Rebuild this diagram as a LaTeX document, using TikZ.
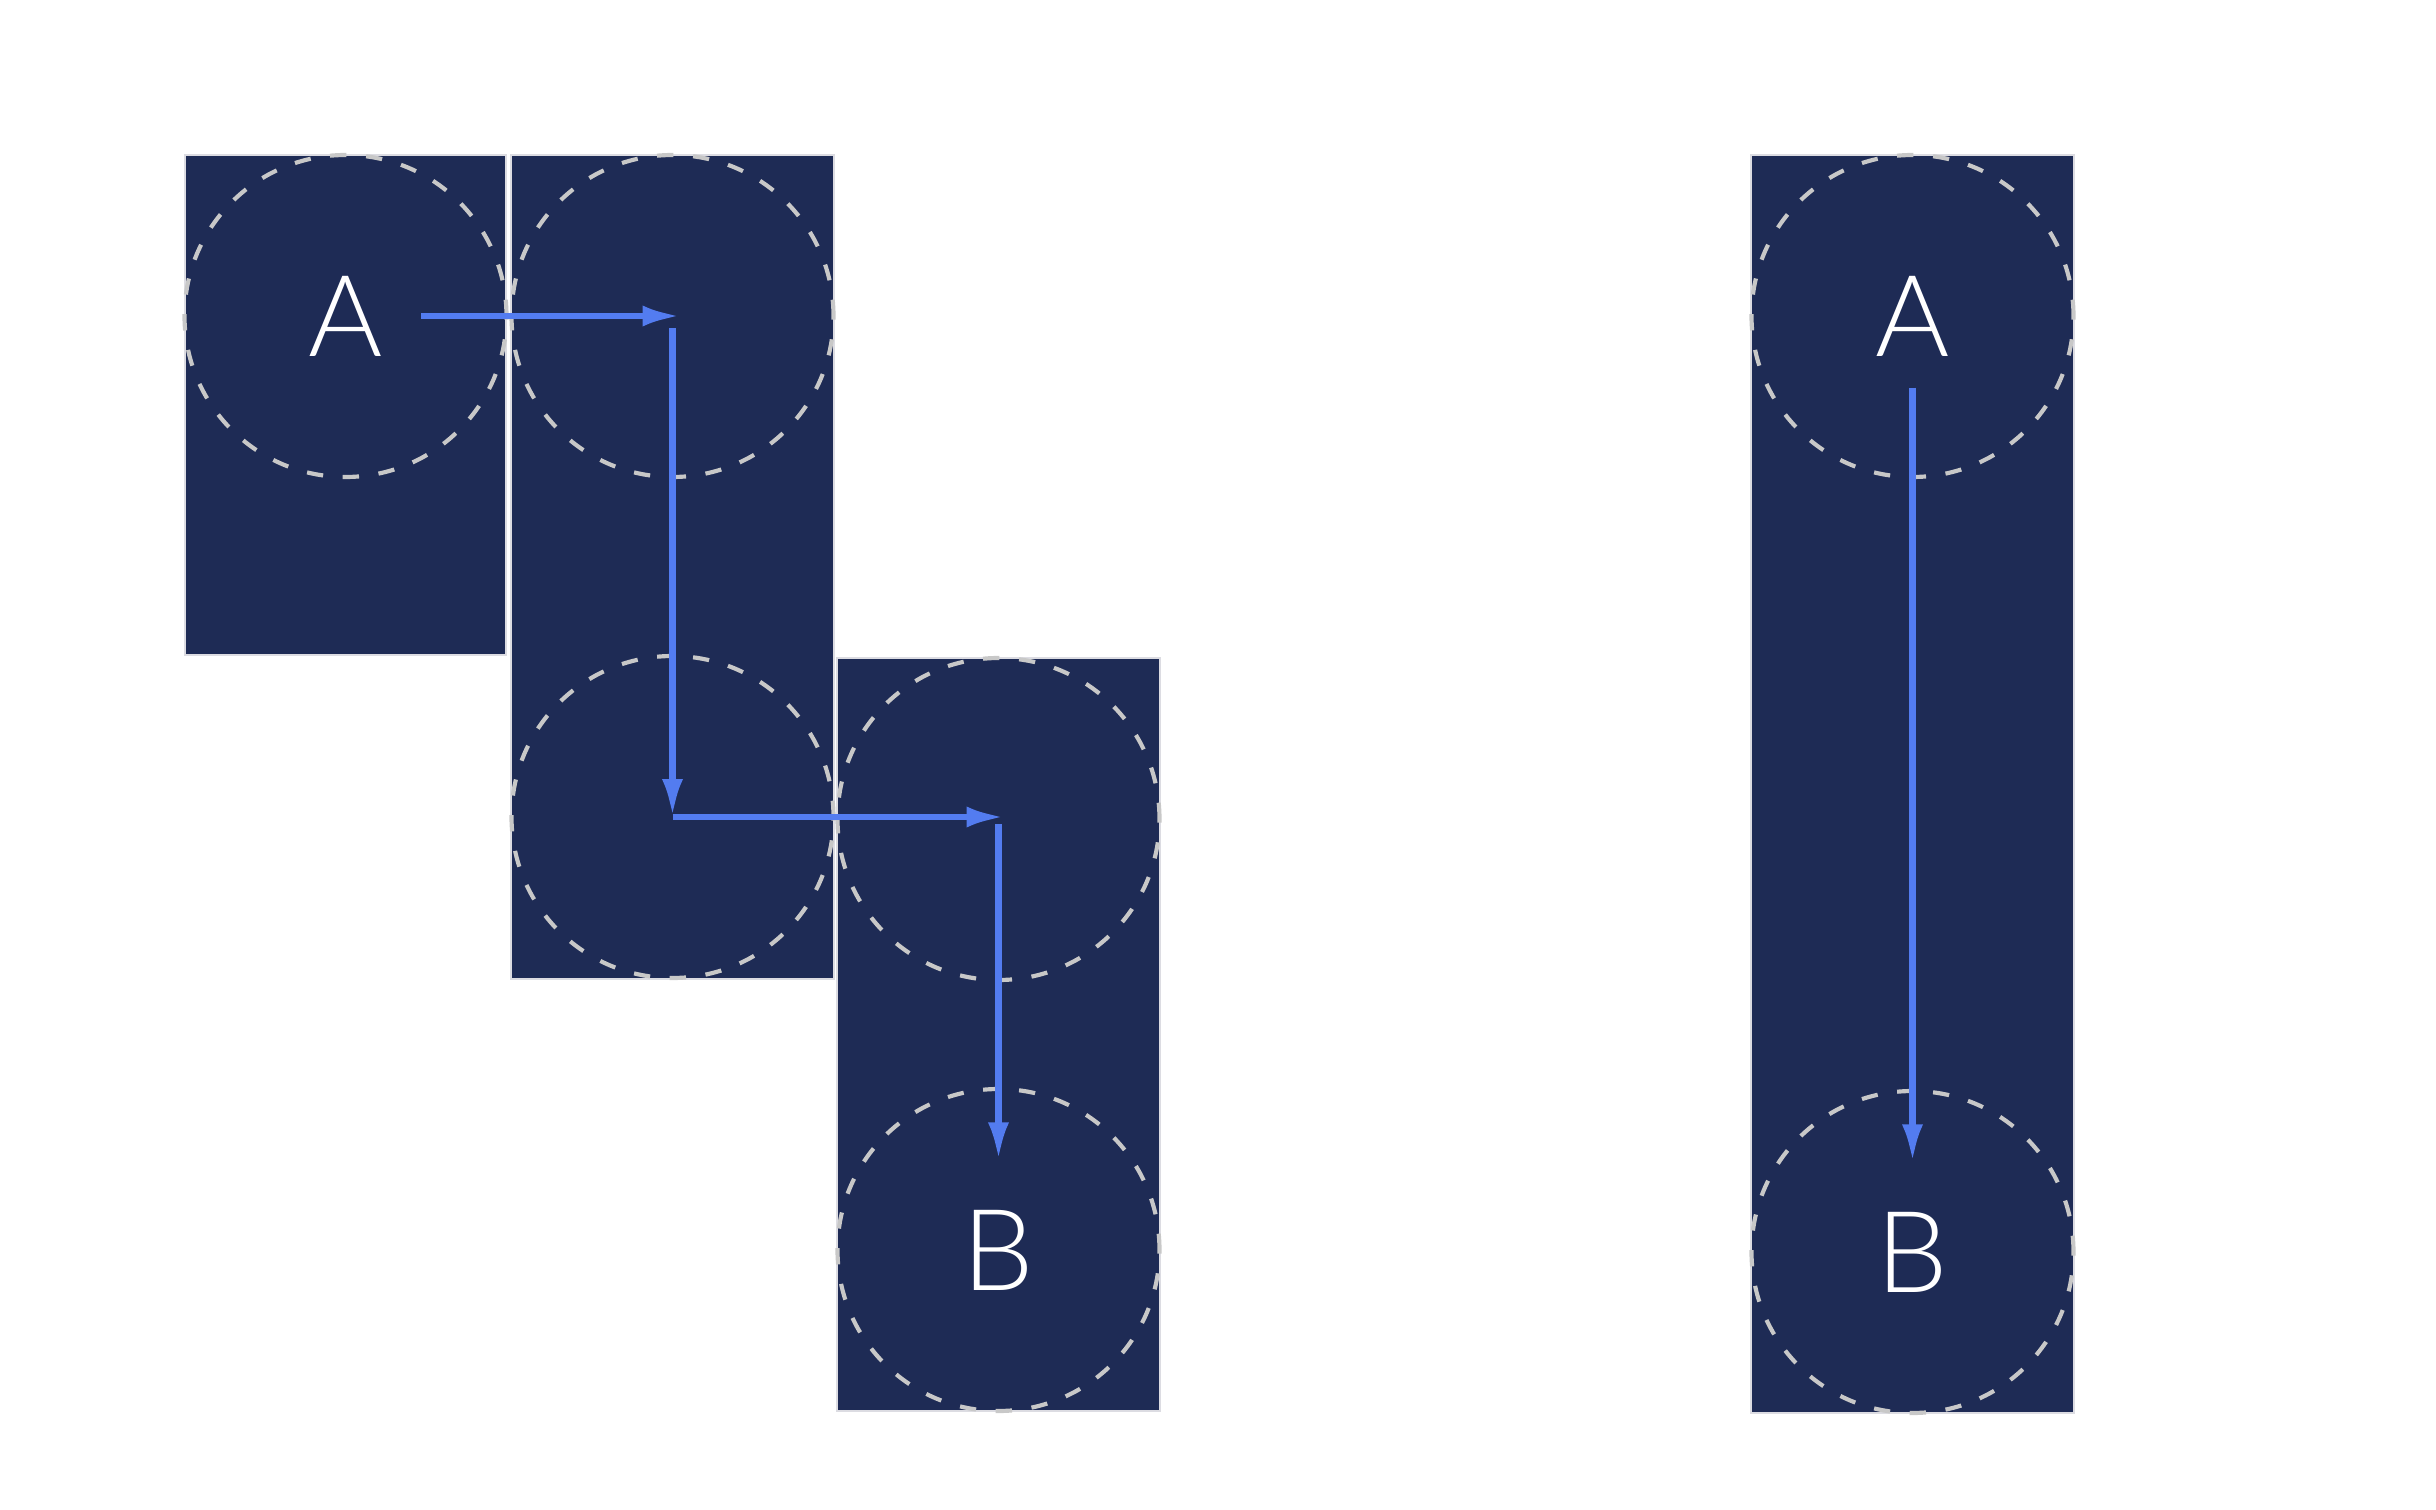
\documentclass[tikz,border=0pt]{standalone}
\usepackage{fontspec}
\newfontfamily\thinfont{Lato Light}
\usetikzlibrary{arrows.meta}
\definecolor{navy}{HTML}{1E2B55}
\definecolor{arrowblue}{HTML}{537CF0}
\definecolor{ringgray}{HTML}{C8C8C8}
\definecolor{edgegray}{HTML}{DCDCE2}
\begin{document}
\begin{tikzpicture}[x=0.3pt,y=-0.3pt,
  cell/.style={fill=navy,draw=edgegray,line width=0.6pt},
  ring/.style={circle,draw=ringgray,line width=1.25pt,dash pattern=on 4.9pt off 5.9pt,minimum size=96.6pt,inner sep=0pt},
  letter/.style={text=white,font=\thinfont\fontsize{34}{34}\selectfont,inner sep=0pt,minimum width=45pt},
  flow/.style={draw=arrowblue,line width=1.9pt,-{Latex[length=11.4pt,width=6.3pt]}}]
\useasboundingbox (0,0) rectangle (2436,1510);
\fill[white] (0,0) rectangle (2436,1510);
% cells
\path[cell] (185,155) rectangle (506,655);
\path[cell] (511,155) rectangle (834,979);
\path[cell] (837,658) rectangle (1160,1411);
\path[cell] (1751,155) rectangle (2074,1413);
% rings
\node[ring] (r1) at (345.5,316) {};
\node[ring] (r2) at (672.5,316) {};
\node[ring] (r3) at (672.5,817) {};
\node[ring] (r4) at (998.5,819) {};
\node[ring] (r5) at (998.5,1250) {};
\node[ring] (r6) at (1912.5,316) {};
\node[ring] (r7) at (1912.5,1252) {};
% labels
\node[letter,minimum height=42.6pt] (A1) at (345.5,316) {A};
\node[letter,minimum height=53.4pt] (B1) at (998.5,1250) {B};
\node[letter,minimum height=42.6pt] (A2) at (1912.5,316) {A};
\node[letter,minimum height=53.4pt] (B2) at (1912.5,1252) {B};
% path waypoints
\coordinate (m1) at (672.5,316);
\coordinate (m2) at (672.5,817);
\coordinate (m3) at (998.5,817);
% arrows
\draw[flow,shorten >=-2.4pt] (A1) -- (m1);
\draw[flow,shorten <=3.6pt] (m1) -- (m2);
\draw[flow,shorten >=-1.8pt] (m2) -- (m3);
\draw[flow,shorten <=2.1pt] (m3) -- (B1);
\draw[flow] (A2) -- (B2);
\end{tikzpicture}
\end{document}
